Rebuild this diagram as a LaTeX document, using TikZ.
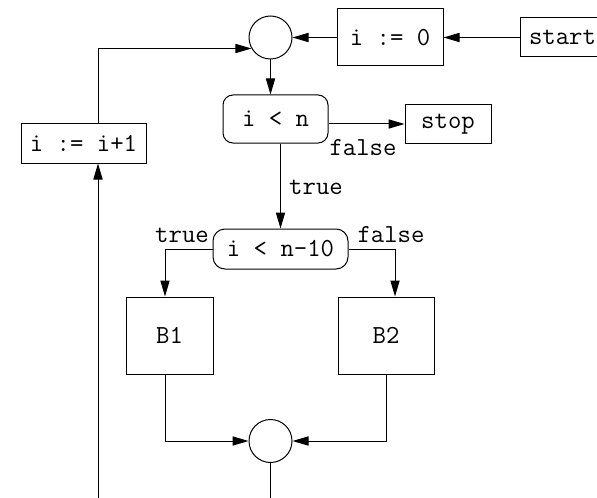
\documentclass[tikz,border=0pt]{standalone}
\usetikzlibrary{arrows.meta,
	calc,
	positioning}

\begin{document}
\begin{tikzpicture}[x=0.5pt,y=-0.5pt,line width=0.5pt,
	font=\ttfamily\fontsize{13}{15}\selectfont,
	>={Triangle[length=8pt,width=4.6pt]},
	block/.style={draw,inner sep=0pt},
	cond/.style={draw,rounded corners=5pt,inner sep=0pt},
	joint/.style={draw,circle,minimum size=21.5pt,inner sep=0pt}]
	\useasboundingbox (0,0) rectangle (597,497);
	\clip (0,0) rectangle (597,497);
	% boxes and tests
	\node[joint] (merge1) at (270.5,37.5) {};
	\node[block,minimum width=53pt,minimum height=28.5pt] (init) at (390,37.5) {i := 0};
	\node[block,minimum width=42.5pt,minimum height=19.5pt] (start) at (562.5,37.5) {start};
	\node[cond,minimum width=52.5pt,minimum height=24pt] (test1) at (275.5,119) {i < n};
	\node[block,minimum width=43pt,minimum height=19pt] (stop) at (448,124) {stop};
	\node[cond,rounded corners=6pt,minimum width=67.5pt,minimum height=20pt] (test2) at (280.5,249) {i < n-10};
	\node[block,minimum width=43.5pt,minimum height=38.5pt] (B1) at (169.5,335.5) {B1};
	\node[block,minimum width=48pt,minimum height=38.5pt] (B2) at (386,335.5) {B2};
	\node[joint] (merge2) at (270.5,441) {};
	\node[block,minimum width=62.5pt,minimum height=19.5pt] (inc) at (83.5,143.5) {i := i+1};
	% branch labels
	\node (no1) at (363,148) {false};
	\node (yes1) at (316,187) {true};
	\node (yes2) at (182,235) {true};
	\node (no2) at (391,235) {false};
	% connectors
	\coordinate (inB1) at ($(B1.north)+(-4.5,0)$);
	\coordinate (inB2) at ($(B2.north)+(9,0)$);
	\coordinate (back) at (98,510);
	\draw[->] (start.west) -- (init.east);
	\draw[->] (init.west) -- (merge1.east);
	\draw[->] (merge1.south) -- (merge1.south |- test1.north);
	\draw[->] (test1.east |- stop.west) -- (stop.west);
	\draw[->] (test1.south -| test2.north) -- (test2.north);
	\draw[->] (test2.west) -| (inB1);
	\draw[->] (test2.east) -| (inB2);
	\draw[->] (B1.south -| inB1) |- (merge2.west);
	\draw[->] (B2.south) |- (merge2.east);
	\draw (merge2.south) -- ++(0,60);
	\draw[->] (back) -- (back |- inc.south);
	\draw[->] (back |- inc.north) |- (merge1.210);
\end{tikzpicture}
\end{document}
